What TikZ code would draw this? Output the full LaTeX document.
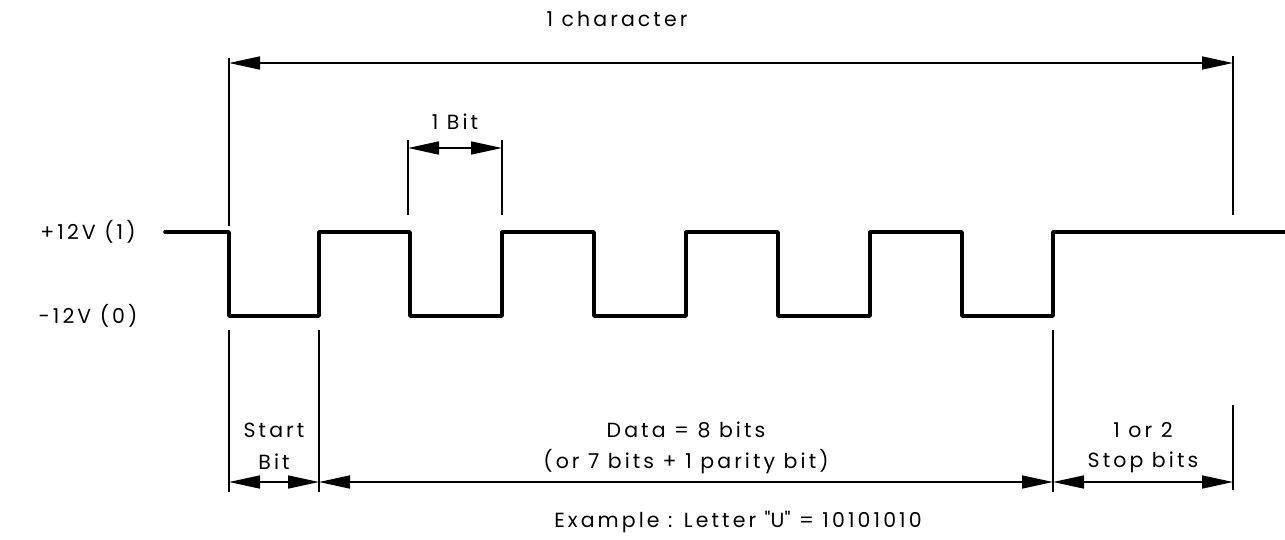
\documentclass[tikz,border=0pt]{standalone}
\usepackage{fontspec}
\setmainfont{Poppins}[LetterSpace=15]
\usetikzlibrary{arrows.meta}
\begin{document}
\begin{tikzpicture}[x=1pt,y=-1pt,
  lbl/.style={inner sep=0pt,font=\fontsize{20.5}{24}\selectfont},
  dim/.style={line width=1.6pt,{Triangle[length=31pt,width=13pt]}-{Triangle[length=31pt,width=13pt]}},
  ext/.style={line width=1.2pt},
  wave/.style={line width=3.6pt,line join=round,line cap=round}]
\useasboundingbox (0,0) rectangle (1285,539);
% waveform
\draw[wave] (165,232) -- (229,232) -- (229,316) -- (319,316) -- (319,232) -- (410,232) -- (410,316)
  -- (502,316) -- (502,232) -- (594,232) -- (594,316) -- (686,316) -- (686,232) -- (778,232)
  -- (778,316) -- (870,316) -- (870,232) -- (962,232) -- (962,316) -- (1053,316) -- (1053,232) -- (1285,232);
% level labels
\node[lbl] (hi) at (88,232) {+12V (1)};
\node[lbl] (lo) at (88,316) {-12V (0)};
% top extension lines
\coordinate (t1a) at (229,58); \coordinate (t1b) at (229,226);
\coordinate (t2a) at (1233,56); \coordinate (t2b) at (1233,215);
\draw[ext] (t1a) -- (t1b);
\draw[ext] (t2a) -- (t2b);
\coordinate (ca) at (229,63); \coordinate (cb) at (1233,63);
\draw[dim] (ca) -- (cb);
\node[lbl] (char) at (617,19) {1 character};
% 1 bit
\coordinate (b1a) at (408,140); \coordinate (b1b) at (408,215);
\coordinate (b2a) at (502,140); \coordinate (b2b) at (502,215);
\draw[ext] (b1a) -- (b1b);
\draw[ext] (b2a) -- (b2b);
\coordinate (ba) at (408,148); \coordinate (bb) at (502,148);
\draw[dim] (ba) -- (bb);
\node[lbl] (bit) at (455,122) {1 Bit};
% bottom extension lines
\coordinate (s1a) at (229,330); \coordinate (s1b) at (229,492);
\coordinate (s2a) at (319,330); \coordinate (s2b) at (319,492);
\coordinate (s3a) at (1053,330); \coordinate (s3b) at (1053,492);
\coordinate (s4a) at (1233,405); \coordinate (s4b) at (1233,490);
\draw[ext] (s1a) -- (s1b);
\draw[ext] (s2a) -- (s2b);
\draw[ext] (s3a) -- (s3b);
\draw[ext] (s4a) -- (s4b);
\coordinate (ya) at (229,482); \coordinate (yb) at (319,482);
\coordinate (yc) at (1053,482); \coordinate (yd) at (1233,482);
\draw[dim] (ya) -- (yb);
\draw[dim] (yb) -- (yc);
\draw[dim] (yc) -- (yd);
% bottom labels
\node[lbl] (st1) at (274,430) {Start};
\node[lbl] (st2) at (274,462) {Bit};
\node[lbl] (d1) at (686,430) {Data = 8 bits};
\node[lbl] (d2) at (686,462) {(or 7 bits + 1 parity bit)};
\node[lbl] (p1) at (1143,430) {1 or 2};
\node[lbl] (p2) at (1143,462) {Stop bits};
\node[lbl] (ex) at (738,522) {Example : Letter \textquotedbl U\textquotedbl{} = 10101010};
\end{tikzpicture}
\end{document}
